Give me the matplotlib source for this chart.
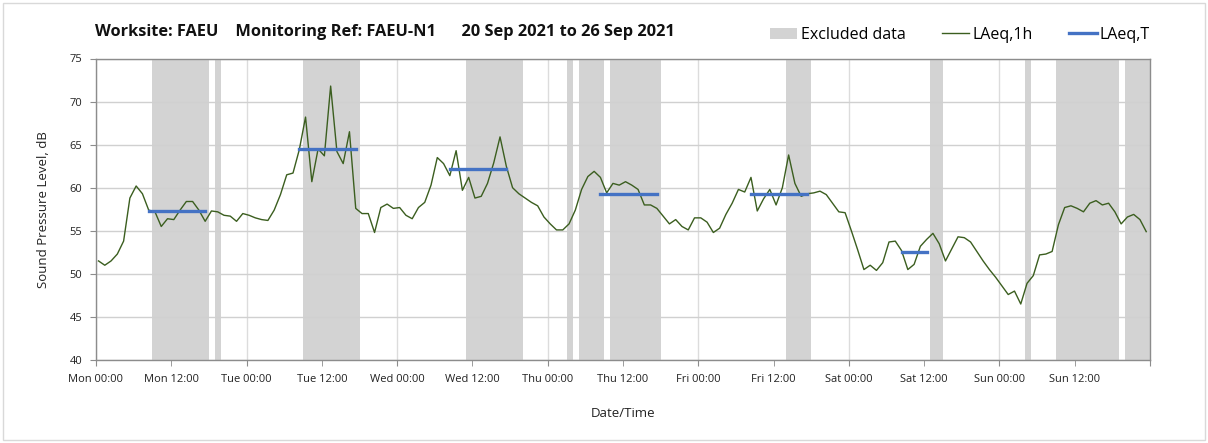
import matplotlib
matplotlib.use("Agg")
import matplotlib.pyplot as plt
from matplotlib.patches import Patch, Rectangle
from matplotlib.lines import Line2D
import numpy as np

# ---- data ----
laeq_1h = [51.5, 51.0, 51.5, 52.3, 53.8, 58.8, 60.2, 59.3, 57.4, 57.2,
           55.5, 56.4, 56.3, 57.4, 58.4, 58.4, 57.4, 56.1, 57.3, 57.2,
           56.8, 56.7, 56.1, 57.0, 56.8, 56.5, 56.3, 56.2, 57.4, 59.2,
           61.5, 61.7, 64.4, 68.2, 60.7, 64.5, 63.7, 71.8, 64.2, 62.8,
           66.5, 57.6, 57.0, 57.0, 54.8, 57.7, 58.1, 57.6, 57.7, 56.8,
           56.4, 57.7, 58.3, 60.3, 63.5, 62.8, 61.4, 64.3, 59.7, 61.2,
           58.8, 59.0, 60.5, 62.9, 65.9, 62.5, 60.0, 59.3, 58.8, 58.3,
           57.9, 56.6, 55.8, 55.1, 55.1, 55.8, 57.4, 59.8, 61.3, 61.9,
           61.2, 59.4, 60.5, 60.3, 60.7, 60.3, 59.8, 58.0, 58.0, 57.6,
           56.7, 55.8, 56.3, 55.5, 55.1, 56.5, 56.5, 56.0, 54.8, 55.3,
           56.9, 58.2, 59.8, 59.5, 61.2, 57.3, 58.7, 59.8, 58.0, 60.0,
           63.8, 60.5, 59.0, 59.3, 59.4, 59.6, 59.2, 58.2, 57.2, 57.1,
           55.0, 52.8, 50.5, 51.0, 50.4, 51.3, 53.7, 53.8, 52.7, 50.5,
           51.1, 53.2, 54.0, 54.7, 53.5, 51.5, 52.9, 54.3, 54.2, 53.7,
           52.6, 51.5, 50.5, 49.6, 48.6, 47.6, 48.0, 46.5, 48.9, 49.8,
           52.2, 52.3, 52.6, 55.7, 57.7, 57.9, 57.6, 57.2, 58.2, 58.5,
           58.0, 58.2, 57.2, 55.8, 56.6, 56.9, 56.3, 54.9]

# excluded periods (hours from Mon 00:00)
excl_start = [9, 19, 33, 59, 75, 77, 82, 110, 133, 148, 153, 164]
excl_end = [18, 20, 42, 68, 76, 81, 90, 114, 135, 149, 163, 168]

# LAeq,T periods (hour index of first and last hourly value) and levels
laeqT_first = [8, 32, 56, 80, 104, 128]
laeqT_last = [17, 41, 65, 89, 113, 132]
laeqT_value = [57.3, 64.5, 62.2, 59.3, 59.3, 52.5]

days = ["Mon", "Tue", "Wed", "Thu", "Fri", "Sat", "Sun"]
title = "Worksite: FAEU    Monitoring Ref: FAEU-N1      20 Sep 2021 to 26 Sep 2021"

# ---- plot ----
plt.rcParams['font.family'] = ['Open Sans', 'DejaVu Sans']
W, H = 1208, 443
fig = plt.figure(figsize=(W / 100, H / 100), dpi=100)
ax = fig.add_axes([96 / W, 1 - 360 / H, (1150 - 96) / W, (360 - 58.5) / H])

offset = 0.4
hours = np.arange(len(laeq_1h)) + offset

for s, e in zip(excl_start, excl_end):
    ax.axvspan(s, e, color='#D3D3D3', lw=0, zorder=0.2)

ax.plot(hours, laeq_1h, color='#3B5E1F', lw=1.0, zorder=3)
for f, l, v in zip(laeqT_first, laeqT_last, laeqT_value):
    ax.plot([f + offset, l + offset], [v, v], color='#4472C4', lw=2.4,
            zorder=4, solid_capstyle='projecting')

ax.set_xlim(0, 168)
ax.set_ylim(40, 75)
ax.set_yticks(np.arange(40, 76, 5))
ax.set_xticks(np.arange(0, 169, 24))
ax.set_xticklabels([f"{d} 00:00" for d in days] + [""])
ax.set_xticks(np.arange(12, 168, 24), minor=True)
ax.set_xticklabels([f"{d} 12:00" for d in days], minor=True)

ax.set_axisbelow(True)
ax.yaxis.grid(True, color='#D0D0D0', lw=1.0)
ax.xaxis.grid(True, which='major', color='#DCDCDC', lw=1.0)

for sp in ax.spines.values():
    sp.set_color('#8C8C8C')
    sp.set_linewidth(1.0)

ax.tick_params(axis='both', which='both', direction='out', length=4,
               color='#8C8C8C', labelsize=8, labelcolor='#222222')
ax.tick_params(axis='x', which='both', pad=6)
ax.tick_params(axis='y', pad=6)

ax.set_ylabel("Sound Pressure Level, dB", fontsize=9.5, color='#222222', labelpad=14)
ax.set_xlabel("Date/Time", fontsize=9.5, color='#222222', labelpad=16)

fig.text(95 / W, 1 - 32 / H, title, fontsize=11.8, fontweight='bold',
         ha='left', va='center', color='#111111')

handles = [Patch(facecolor='#D3D3D3', edgecolor='none'),
           Line2D([], [], color='#3B5E1F', lw=1.0),
           Line2D([], [], color='#4472C4', lw=2.4)]
fig.legend(handles, ["Excluded data", "LAeq,1h", "LAeq,T"], ncol=3,
           loc='center right', bbox_to_anchor=(1161 / W, 1 - 35 / H),
           frameon=False, fontsize=11.5, handlelength=1.7, handletextpad=0.2,
           columnspacing=2.3, borderpad=0.2)

fig.add_artist(Rectangle((3 / W, 3 / H), (W - 6) / W, (H - 6) / H,
                         transform=fig.transFigure, fill=False,
                         edgecolor='#D9D9D9', lw=1.0))

fig.savefig("out.png", dpi=100)
